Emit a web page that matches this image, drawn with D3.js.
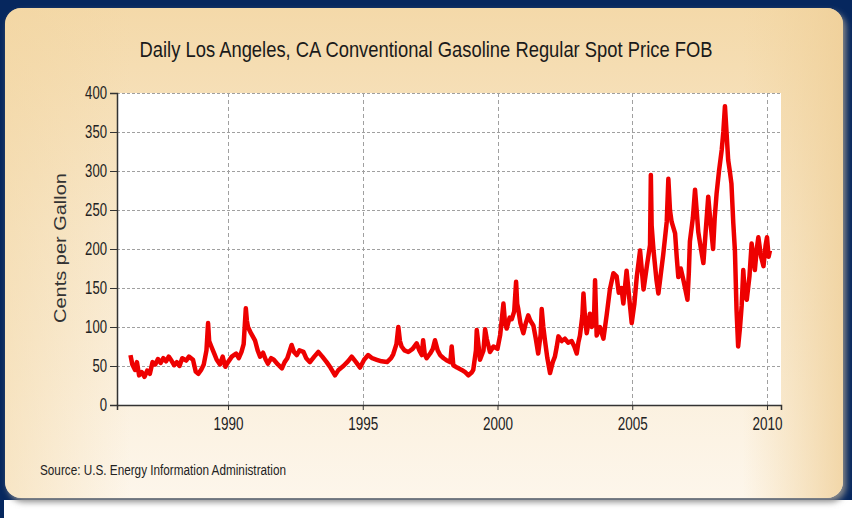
<!DOCTYPE html>
<html>
<head>
<meta charset="utf-8">
<script src="https://cdn.jsdelivr.net/npm/d3@7"></script>
<style>
  body { margin: 0; background: #06275e; }
  svg { display: block; }
</style>
</head>
<body>
<svg id="chart" width="852" height="518"></svg>
<script>
// daily LA gasoline spot price (decimal year, cents/gal)
var years = [
  1986.38, 1986.45, 1986.55, 1986.62, 1986.7, 1986.8, 1986.9, 1987.0, 1987.1, 1987.2,
  1987.3, 1987.4, 1987.5, 1987.6, 1987.7, 1987.8, 1987.9, 1988.0, 1988.1, 1988.2,
  1988.3, 1988.45, 1988.55, 1988.7, 1988.8, 1988.9, 1989.0, 1989.1, 1989.2, 1989.26,
  1989.3, 1989.38, 1989.5, 1989.58, 1989.7, 1989.8, 1989.9, 1990.0, 1990.14, 1990.3,
  1990.4, 1990.5, 1990.58, 1990.66, 1990.7, 1990.74, 1990.85, 1991.0, 1991.1, 1991.19,
  1991.3, 1991.4, 1991.48, 1991.6, 1991.7, 1991.85, 1992.0, 1992.1, 1992.2, 1992.36,
  1992.45, 1992.55, 1992.65, 1992.8, 1992.9, 1993.04, 1993.2, 1993.35, 1993.5, 1993.66,
  1993.8, 1993.97, 1994.1, 1994.28, 1994.45, 1994.59, 1994.75, 1994.9, 1995.05, 1995.2,
  1995.35, 1995.52, 1995.7, 1995.9, 1996.05, 1996.13, 1996.25, 1996.32, 1996.38, 1996.44,
  1996.55, 1996.69, 1996.85, 1997.0, 1997.1, 1997.19, 1997.24, 1997.3, 1997.37, 1997.5,
  1997.6, 1997.68, 1997.78, 1997.87, 1998.0, 1998.12, 1998.25, 1998.3, 1998.36, 1998.5,
  1998.67, 1998.8, 1998.92, 1999.05, 1999.1, 1999.2, 1999.23, 1999.3, 1999.35, 1999.48,
  1999.54, 1999.6, 1999.72, 1999.85, 2000.0, 2000.1, 2000.22, 2000.28, 2000.34, 2000.45,
  2000.53, 2000.62, 2000.69, 2000.73, 2000.77, 2000.85, 2000.96, 2001.05, 2001.14, 2001.22,
  2001.33, 2001.42, 2001.51, 2001.6, 2001.64, 2001.7, 2001.76, 2001.85, 2001.95, 2002.05,
  2002.13, 2002.2, 2002.26, 2002.38, 2002.5, 2002.62, 2002.75, 2002.85, 2002.94, 2003.0,
  2003.06, 2003.15, 2003.19, 2003.25, 2003.31, 2003.43, 2003.5, 2003.58, 2003.62, 2003.68,
  2003.8, 2003.93, 2004.05, 2004.17, 2004.3, 2004.42, 2004.5, 2004.6, 2004.67, 2004.79,
  2004.88, 2004.98, 2005.08, 2005.17, 2005.29, 2005.42, 2005.55, 2005.66, 2005.69, 2005.72,
  2005.79, 2005.9, 2005.97, 2006.05, 2006.15, 2006.28, 2006.34, 2006.4, 2006.46, 2006.59,
  2006.65, 2006.71, 2006.8, 2006.9, 2007.05, 2007.1, 2007.14, 2007.25, 2007.33, 2007.4,
  2007.45, 2007.55, 2007.64, 2007.72, 2007.82, 2007.9, 2008.0, 2008.06, 2008.13, 2008.22,
  2008.32, 2008.38, 2008.44, 2008.5, 2008.56, 2008.62, 2008.68, 2008.75, 2008.81, 2008.87,
  2008.93, 2009.0, 2009.06, 2009.12, 2009.18, 2009.25, 2009.35, 2009.43, 2009.55, 2009.62,
  2009.68, 2009.78, 2009.87, 2009.95, 2010.0, 2010.06, 2010.11
];
var prices = [
  64, 52, 45, 55, 38, 42, 36, 44, 40, 55,
  52, 59, 54, 60, 56, 62, 57, 51, 55, 50,
  60, 57, 62, 58, 43, 40, 45, 52, 70, 105,
  82, 75, 65, 58, 52, 62, 49, 55, 62, 66,
  60, 68, 78, 124, 108, 100, 92, 83, 70, 62,
  67, 58, 53, 60, 58, 52, 47, 55, 60, 77,
  68, 64, 70, 68, 60, 55, 62, 68, 62, 55,
  48, 38, 45, 50, 56, 62, 55, 48, 58, 64,
  60, 58, 56, 55, 60, 65, 78, 100, 82, 75,
  70, 68, 72, 79, 70, 64, 83, 65, 60, 66,
  72, 83, 70, 64, 60, 57, 55, 75, 51, 48,
  45, 42, 38, 42, 45, 70, 96, 75, 58, 70,
  97, 85, 68, 75, 72, 90, 130, 105, 98, 112,
  110, 120, 158, 130, 123, 105, 92, 105, 115, 108,
  102, 85, 66, 90, 123, 100, 83, 60, 41, 55,
  62, 75, 88, 82, 85, 80, 82, 75, 66, 80,
  89, 115, 143, 110, 92, 117, 100, 110, 160, 89,
  100, 85, 115, 148, 169, 165, 144, 150, 130, 172,
  140, 105, 130, 165, 198, 148, 180, 205, 295, 230,
  198, 160, 143, 165, 193, 235, 290, 250, 235, 220,
  190, 164, 175, 160, 135, 170, 210, 240, 276, 245,
  222, 200, 182, 220, 267, 235, 200, 240, 271, 300,
  327, 350, 383, 349, 314, 300, 284, 233, 198, 122,
  75, 100, 127, 173, 140, 135, 165, 207, 173, 200,
  215, 190, 178, 205, 215, 190, 198
];
var yTicks = [0, 50, 100, 150, 200, 250, 300, 350, 400];
var xTicks = [1990, 1995, 2000, 2005, 2010];

var data = years.map(function(y, i) { return { year: y, price: prices[i] }; });

var svg = d3.select("#chart");
var defs = svg.append("defs");

var grad = defs.append("linearGradient").attr("id", "panelGrad")
    .attr("x1", 0).attr("y1", 0).attr("x2", 0).attr("y2", 1);
grad.append("stop").attr("offset", "0%").attr("stop-color", "#f4d9a9");
grad.append("stop").attr("offset", "45%").attr("stop-color", "#f8e8cc");
grad.append("stop").attr("offset", "100%").attr("stop-color", "#fdf6eb");

var side = defs.append("linearGradient").attr("id", "sideGrad")
    .attr("x1", 0).attr("y1", 0).attr("x2", 1).attr("y2", 0);
side.append("stop").attr("offset", "0%").attr("stop-color", "#f2d5a0").attr("stop-opacity", 0.5);
side.append("stop").attr("offset", "15%").attr("stop-color", "#f2d5a0").attr("stop-opacity", 0);
side.append("stop").attr("offset", "88%").attr("stop-color", "#f2d5a0").attr("stop-opacity", 0);
side.append("stop").attr("offset", "100%").attr("stop-color", "#efcf98").attr("stop-opacity", 0.8);

var blur = defs.append("filter").attr("id", "shadow")
    .attr("x", "-5%").attr("y", "-5%").attr("width", "110%").attr("height", "115%");
blur.append("feGaussianBlur").attr("stdDeviation", 3);

// white strip at the bottom of the slide
svg.append("rect").attr("x", 4).attr("y", 500).attr("width", 848).attr("height", 18)
    .attr("fill", "#ffffff");

// panel + shadow
svg.append("rect").attr("x", 8).attr("y", 12).attr("width", 838).attr("height", 490)
    .attr("rx", 16).attr("fill", "#8a8a8a").attr("filter", "url(#shadow)");
svg.append("rect").attr("x", 5).attr("y", 8).attr("width", 838).attr("height", 490)
    .attr("rx", 16).attr("fill", "url(#panelGrad)");
svg.append("rect").attr("x", 5).attr("y", 8).attr("width", 838).attr("height", 490)
    .attr("rx", 16).attr("fill", "url(#sideGrad)");

var plotLeft = 117, plotRight = 781, plotTop = 93, plotBottom = 405;

var x = d3.scaleLinear().domain([1985.88, 2010.52]).range([plotLeft, plotRight]);
var y = d3.scaleLinear().domain([0, 400]).range([plotBottom, plotTop]);

// plot background
svg.append("rect").attr("x", plotLeft).attr("y", plotTop)
    .attr("width", plotRight - plotLeft).attr("height", plotBottom - plotTop)
    .attr("fill", "#ffffff");

// gridlines
svg.append("g").selectAll("line").data(yTicks.slice(1)).enter().append("line")
    .attr("x1", plotLeft).attr("x2", plotRight)
    .attr("y1", function(d) { return Math.round(y(d)) + 0.5; })
    .attr("y2", function(d) { return Math.round(y(d)) + 0.5; })
    .attr("stroke", "#a0a0a0").attr("stroke-width", 1)
    .attr("stroke-dasharray", "3,2");
svg.append("g").selectAll("line").data(xTicks).enter().append("line")
    .attr("y1", plotTop).attr("y2", plotBottom)
    .attr("x1", function(d) { return Math.round(x(d)) + 0.5; })
    .attr("x2", function(d) { return Math.round(x(d)) + 0.5; })
    .attr("stroke", "#a0a0a0").attr("stroke-width", 1)
    .attr("stroke-dasharray", "4,3");

// price line
var line = d3.line()
    .x(function(d) { return x(d.year); })
    .y(function(d) { return y(d.price); });

svg.append("path").datum(data)
    .attr("d", line)
    .attr("fill", "none")
    .attr("stroke", "#ee0000")
    .attr("stroke-width", 4.5)
    .attr("stroke-linejoin", "round");

// axes
var tickFont = "'Liberation Sans Narrow', 'Arial Narrow', 'Liberation Sans', sans-serif";

var yAxis = svg.append("g")
    .attr("transform", "translate(" + plotLeft + ",0)")
    .call(d3.axisLeft(y).tickValues(yTicks).tickSize(7).tickPadding(3));
yAxis.select(".domain").attr("stroke", "#333").attr("stroke-width", 1.5);
yAxis.selectAll(".tick line").attr("stroke", "#333");
yAxis.selectAll("text").style("font-family", tickFont).style("font-size", "18px").attr("fill", "#222")
    .attr("textLength", function(d) { return String(d).length * 7.3; })
    .attr("lengthAdjust", "spacingAndGlyphs");

var xAxis = svg.append("g")
    .attr("transform", "translate(0," + plotBottom + ")")
    .call(d3.axisBottom(x).tickValues(xTicks).tickFormat(d3.format("d")).tickSize(5).tickPadding(7));
xAxis.select(".domain").attr("stroke", "#333").attr("stroke-width", 1.5);
xAxis.selectAll(".tick line").attr("stroke", "#333");
xAxis.selectAll("text").style("font-family", tickFont).style("font-size", "18px").attr("fill", "#222")
    .attr("textLength", 30).attr("lengthAdjust", "spacingAndGlyphs");

// title
svg.append("text")
    .attr("x", 426).attr("y", 57)
    .attr("text-anchor", "middle")
    .attr("textLength", 573).attr("lengthAdjust", "spacingAndGlyphs")
    .style("font-family", tickFont).style("font-size", "22px")
    .attr("fill", "#1a1a1a")
    .text("Daily Los Angeles, CA Conventional Gasoline Regular Spot Price FOB");

// y label
svg.append("text")
    .attr("transform", "translate(66,248) rotate(-90)")
    .attr("text-anchor", "middle")
    .attr("textLength", 150).attr("lengthAdjust", "spacingAndGlyphs")
    .style("font-family", "'Liberation Sans', Arial, sans-serif").style("font-size", "17px")
    .attr("fill", "#333")
    .text("Cents per Gallon");

// source
svg.append("text")
    .attr("x", 40).attr("y", 475)
    .attr("textLength", 246).attr("lengthAdjust", "spacingAndGlyphs")
    .style("font-family", tickFont).style("font-size", "14px")
    .attr("fill", "#222")
    .text("Source: U.S. Energy Information Administration");
</script>
</body>
</html>
